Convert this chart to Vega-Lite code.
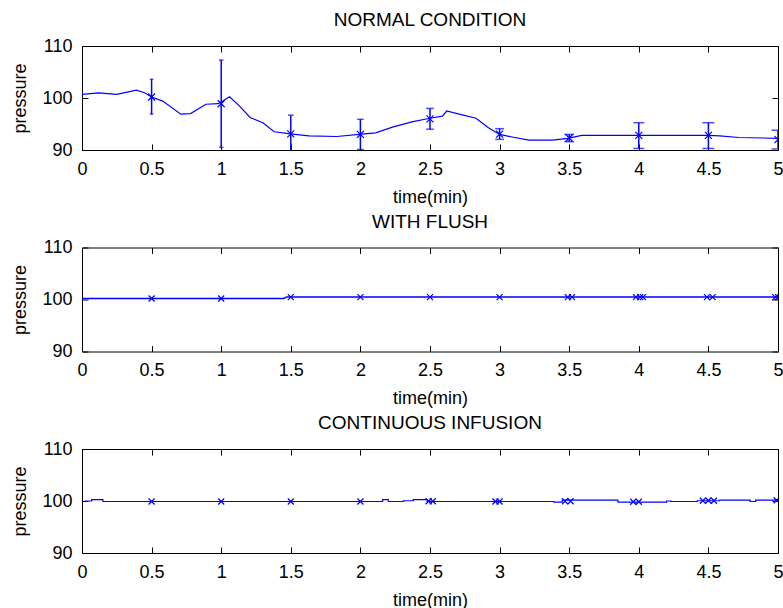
{
  "$schema": "https://vega.github.io/schema/vega-lite/v6.json",
  "padding": {"left": 11, "top": 10, "right": 0, "bottom": 0},
  "bounds": "flush",
  "spacing": 97.5,
  "background": "white",
  "config": {
    "font": "Liberation Sans",
    "view": {"stroke": "#000000", "strokeWidth": 1},
    "axis": {
      "grid": false, "domain": false, "tickColor": "#000000", "tickSize": -6,
      "labelColor": "#000000", "labelFont": "Liberation Sans", "labelFontSize": 18,
      "titleFont": "Liberation Sans", "titleFontSize": 18, "titleFontWeight": "normal",
      "titleColor": "#000000", "labelFlush": false
    },
    "axisX": {"labelPadding": 16, "titlePadding": 10},
    "axisY": {"labelPadding": 16, "titlePadding": 12},
    "title": {"font": "Liberation Sans", "fontSize": 19, "fontWeight": "normal", "color": "#000000", "anchor": "middle", "frame": "group", "baseline": "alphabetic", "offset": 7}
  },
  "datasets": {
    "n_line": [
      {"t": 0, "p": 100.7}, {"t": 0.12, "p": 101.0}, {"t": 0.25, "p": 100.7}, {"t": 0.39, "p": 101.5},
      {"t": 0.45, "p": 101.0}, {"t": 0.5, "p": 100.2}, {"t": 0.58, "p": 99.4}, {"t": 0.71, "p": 96.9},
      {"t": 0.78, "p": 97.0}, {"t": 0.89, "p": 98.8}, {"t": 0.98, "p": 98.9}, {"t": 1.06, "p": 100.25},
      {"t": 1.13, "p": 98.5}, {"t": 1.21, "p": 96.2}, {"t": 1.3, "p": 95.25}, {"t": 1.38, "p": 93.5},
      {"t": 1.5, "p": 93.1}, {"t": 1.63, "p": 92.7}, {"t": 1.83, "p": 92.6}, {"t": 1.99, "p": 93.0},
      {"t": 2.11, "p": 93.3}, {"t": 2.23, "p": 94.4}, {"t": 2.37, "p": 95.4}, {"t": 2.5, "p": 96.1},
      {"t": 2.59, "p": 96.5}, {"t": 2.62, "p": 97.5}, {"t": 2.71, "p": 96.9}, {"t": 2.83, "p": 96.1},
      {"t": 2.92, "p": 94.3}, {"t": 3.0, "p": 93.0}, {"t": 3.09, "p": 92.5}, {"t": 3.21, "p": 91.9},
      {"t": 3.38, "p": 91.9}, {"t": 3.49, "p": 92.25}, {"t": 3.59, "p": 92.8}, {"t": 4.0, "p": 92.8},
      {"t": 4.5, "p": 92.8}, {"t": 4.58, "p": 92.7}, {"t": 4.72, "p": 92.4}, {"t": 5.0, "p": 92.25}
    ],
    "n_err": [
      {"t": 0.5, "p": 100.2, "lo": 96.9, "hi": 103.6},
      {"t": 1.0, "p": 98.9, "lo": 90.5, "hi": 107.3},
      {"t": 1.5, "p": 93.1, "lo": 89.5, "hi": 96.7},
      {"t": 2.0, "p": 93.0, "lo": 90.1, "hi": 95.9},
      {"t": 2.5, "p": 96.0, "lo": 94.0, "hi": 98.0},
      {"t": 3.0, "p": 93.05, "lo": 92.05, "hi": 94.1},
      {"t": 3.5, "p": 92.3, "lo": 91.6, "hi": 93.0},
      {"t": 4.0, "p": 92.8, "lo": 90.3, "hi": 95.25},
      {"t": 4.5, "p": 92.8, "lo": 90.3, "hi": 95.25},
      {"t": 5.0, "p": 92.0, "lo": 90.2, "hi": 93.8}
    ],
    "f_line": [
      {"t": 0, "p": 100.2}, {"t": 1.45, "p": 100.2}, {"t": 1.47, "p": 100.48}, {"t": 5.0, "p": 100.48}
    ],
    "f_mark": [
      {"t": 0.5, "p": 100.2}, {"t": 1.0, "p": 100.2}, {"t": 1.5, "p": 100.45}, {"t": 2.0, "p": 100.45},
      {"t": 2.5, "p": 100.45}, {"t": 3.0, "p": 100.45}, {"t": 3.49, "p": 100.45}, {"t": 3.52, "p": 100.45},
      {"t": 3.98, "p": 100.45}, {"t": 4.01, "p": 100.45}, {"t": 4.03, "p": 100.45}, {"t": 4.49, "p": 100.45},
      {"t": 4.53, "p": 100.45}, {"t": 4.98, "p": 100.45}, {"t": 5.0, "p": 100.45}
    ],
    "c_line": [
      {"t": 0.02, "p": 100.0}, {"t": 0.07, "p": 100.0}, {"t": 0.07, "p": 100.25}, {"t": 0.15, "p": 100.25},
      {"t": 0.15, "p": 99.9}, {"t": 2.16, "p": 99.9}, {"t": 2.16, "p": 100.25}, {"t": 2.2, "p": 100.25},
      {"t": 2.2, "p": 99.9}, {"t": 2.31, "p": 99.9}, {"t": 2.31, "p": 100.05}, {"t": 2.38, "p": 100.05},
      {"t": 2.38, "p": 100.25}, {"t": 2.48, "p": 100.25}, {"t": 2.48, "p": 99.9}, {"t": 3.39, "p": 99.9},
      {"t": 3.39, "p": 99.8}, {"t": 3.45, "p": 99.8}, {"t": 3.45, "p": 100.15}, {"t": 3.85, "p": 100.15},
      {"t": 3.85, "p": 99.8}, {"t": 4.2, "p": 99.8}, {"t": 4.2, "p": 100.0}, {"t": 4.23, "p": 100.0},
      {"t": 4.23, "p": 99.9}, {"t": 4.42, "p": 99.9}, {"t": 4.42, "p": 100.05}, {"t": 4.58, "p": 100.05},
      {"t": 4.58, "p": 100.15}, {"t": 4.8, "p": 100.15}, {"t": 4.8, "p": 99.9}, {"t": 4.84, "p": 99.9},
      {"t": 4.84, "p": 100.15}, {"t": 5.0, "p": 100.15}
    ],
    "c_mark": [
      {"t": 0.5, "p": 99.9}, {"t": 1.0, "p": 99.9}, {"t": 1.5, "p": 99.9}, {"t": 2.0, "p": 99.9},
      {"t": 2.49, "p": 99.95}, {"t": 2.52, "p": 99.95}, {"t": 2.97, "p": 99.9}, {"t": 3.0, "p": 99.9},
      {"t": 3.47, "p": 99.95}, {"t": 3.51, "p": 99.95}, {"t": 3.96, "p": 99.85}, {"t": 4.0, "p": 99.85},
      {"t": 4.46, "p": 100.05}, {"t": 4.5, "p": 100.1}, {"t": 4.54, "p": 100.05}, {"t": 4.99, "p": 100.15}
    ]
  },
  "vconcat": [
    {
      "width": 696, "height": 104,
      "title": {"text": "NORMAL CONDITION"},
      "resolve": {"axis": {"x": "independent", "y": "independent"}},
      "layer": [
        {
          "data": {"name": "n_line"},
          "mark": {"type": "line", "color": "#0000ff", "strokeWidth": 1.2, "clip": true},
          "encoding": {
            "x": {"field": "t", "type": "quantitative", "scale": {"domain": [0, 5], "nice": false},
                  "axis": {"orient": "bottom", "values": [0, 0.5, 1, 1.5, 2, 2.5, 3, 3.5, 4, 4.5, 5], "format": "~g", "title": "time(min)"}},
            "y": {"field": "p", "type": "quantitative", "scale": {"domain": [90, 110], "nice": false, "zero": false},
                  "axis": {"orient": "left", "values": [90, 100, 110], "title": "pressure"}}
          }
        },
        {
          "data": {"name": "n_err"},
          "mark": {"type": "rule", "color": "#0000ff", "strokeWidth": 1.5, "clip": true},
          "encoding": {
            "x": {"field": "t", "type": "quantitative", "scale": {"domain": [0, 5], "nice": false},
                  "axis": {"orient": "top", "values": [0, 0.5, 1, 1.5, 2, 2.5, 3, 3.5, 4, 4.5, 5], "labels": false, "title": null}},
            "y": {"field": "lo", "type": "quantitative", "scale": {"domain": [90, 110], "nice": false, "zero": false},
                  "axis": {"orient": "right", "values": [90, 100, 110], "labels": false, "title": null}},
            "y2": {"field": "hi"}
          }
        },
        {
          "data": {"name": "n_err"},
          "mark": {"type": "tick", "orient": "horizontal", "thickness": 1.5, "color": "#0000ff", "clip": true},
          "encoding": {
            "x": {"field": "t", "type": "quantitative", "scale": {"domain": [0, 5], "nice": false}, "axis": null},
            "y": {"field": "lo", "type": "quantitative", "scale": {"domain": [90, 110], "nice": false, "zero": false}, "axis": null},
            "size": {"field": "t", "type": "quantitative", "scale": {"domain": [0.5, 5], "range": [3.5, 13]}, "legend": null}
          }
        },
        {
          "data": {"name": "n_err"},
          "mark": {"type": "tick", "orient": "horizontal", "thickness": 1.5, "color": "#0000ff", "clip": true},
          "encoding": {
            "x": {"field": "t", "type": "quantitative", "scale": {"domain": [0, 5], "nice": false}, "axis": null},
            "y": {"field": "hi", "type": "quantitative", "scale": {"domain": [90, 110], "nice": false, "zero": false}, "axis": null},
            "size": {"field": "t", "type": "quantitative", "scale": {"domain": [0.5, 5], "range": [3.5, 13]}, "legend": null}
          }
        },
        {
          "data": {"name": "n_err"},
          "mark": {"type": "point", "shape": "M-1,-1L1,1M-1,1L1,-1", "filled": false, "color": "#0000ff", "size": 49, "strokeWidth": 1.2, "opacity": 1, "clip": true},
          "encoding": {
            "x": {"field": "t", "type": "quantitative", "scale": {"domain": [0, 5], "nice": false}, "axis": null},
            "y": {"field": "p", "type": "quantitative", "scale": {"domain": [90, 110], "nice": false, "zero": false}, "axis": null}
          }
        }
      ]
    },
    {
      "width": 696, "height": 104,
      "title": {"text": "WITH FLUSH"},
      "resolve": {"axis": {"x": "independent", "y": "independent"}},
      "layer": [
        {
          "data": {"name": "f_line"},
          "mark": {"type": "line", "color": "#0000ff", "strokeWidth": 1.4, "clip": true},
          "encoding": {
            "x": {"field": "t", "type": "quantitative", "scale": {"domain": [0, 5], "nice": false},
                  "axis": {"orient": "bottom", "values": [0, 0.5, 1, 1.5, 2, 2.5, 3, 3.5, 4, 4.5, 5], "format": "~g", "title": "time(min)"}},
            "y": {"field": "p", "type": "quantitative", "scale": {"domain": [90, 110], "nice": false, "zero": false},
                  "axis": {"orient": "left", "values": [90, 100, 110], "title": "pressure"}}
          }
        },
        {
          "data": {"name": "f_mark"},
          "mark": {"type": "point", "shape": "M-1,-1L1,1M-1,1L1,-1", "filled": false, "color": "#0000ff", "size": 36, "strokeWidth": 1.2, "opacity": 1, "clip": true},
          "encoding": {
            "x": {"field": "t", "type": "quantitative", "scale": {"domain": [0, 5], "nice": false},
                  "axis": {"orient": "top", "values": [0, 0.5, 1, 1.5, 2, 2.5, 3, 3.5, 4, 4.5, 5], "labels": false, "title": null}},
            "y": {"field": "p", "type": "quantitative", "scale": {"domain": [90, 110], "nice": false, "zero": false},
                  "axis": {"orient": "right", "values": [90, 100, 110], "labels": false, "title": null}}
          }
        }
      ]
    },
    {
      "width": 696, "height": 104,
      "title": {"text": "CONTINUOUS INFUSION"},
      "resolve": {"axis": {"x": "independent", "y": "independent"}},
      "layer": [
        {
          "data": {"name": "c_line"},
          "mark": {"type": "line", "color": "#0000ff", "strokeWidth": 1.2, "clip": true},
          "encoding": {
            "x": {"field": "t", "type": "quantitative", "scale": {"domain": [0, 5], "nice": false},
                  "axis": {"orient": "bottom", "values": [0, 0.5, 1, 1.5, 2, 2.5, 3, 3.5, 4, 4.5, 5], "format": "~g", "title": "time(min)"}},
            "y": {"field": "p", "type": "quantitative", "scale": {"domain": [90, 110], "nice": false, "zero": false},
                  "axis": {"orient": "left", "values": [90, 100, 110], "title": "pressure"}}
          }
        },
        {
          "data": {"name": "c_mark"},
          "mark": {"type": "point", "shape": "M-1,-1L1,1M-1,1L1,-1", "filled": false, "color": "#0000ff", "size": 36, "strokeWidth": 1.2, "opacity": 1, "clip": true},
          "encoding": {
            "x": {"field": "t", "type": "quantitative", "scale": {"domain": [0, 5], "nice": false},
                  "axis": {"orient": "top", "values": [0, 0.5, 1, 1.5, 2, 2.5, 3, 3.5, 4, 4.5, 5], "labels": false, "title": null}},
            "y": {"field": "p", "type": "quantitative", "scale": {"domain": [90, 110], "nice": false, "zero": false},
                  "axis": {"orient": "right", "values": [90, 100, 110], "labels": false, "title": null}}
          }
        }
      ]
    }
  ]
}
